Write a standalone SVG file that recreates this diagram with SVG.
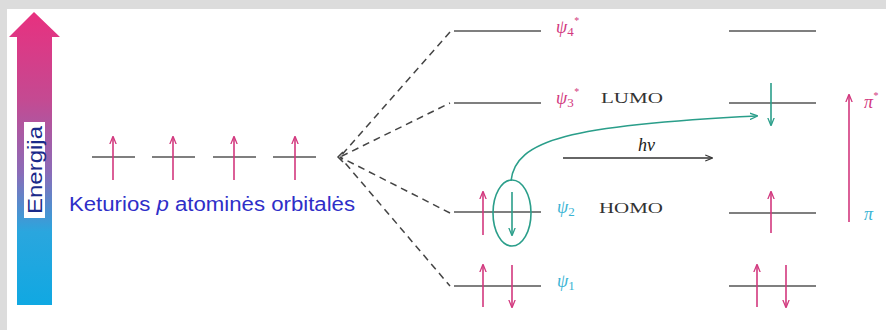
<svg xmlns="http://www.w3.org/2000/svg" width="886" height="330" viewBox="0 0 886 330">
<defs>
<linearGradient id="eg" x1="0" y1="0" x2="0" y2="1">
<stop offset="0" stop-color="#e8307f"/>
<stop offset="0.3" stop-color="#c44a92"/>
<stop offset="0.55" stop-color="#8a6cb8"/>
<stop offset="0.75" stop-color="#2aa6de"/>
<stop offset="1" stop-color="#10a8e2"/>
</linearGradient>
<marker id="ap" viewBox="0 0 10 10" refX="9" refY="5" markerWidth="5" markerHeight="5" orient="auto-start-reverse"><path d="M0,1 L10,5 L0,9" fill="none" stroke="#d2387e" stroke-width="1.6"/></marker>
<marker id="at" viewBox="0 0 10 10" refX="9" refY="5" markerWidth="5" markerHeight="5" orient="auto-start-reverse"><path d="M0,1 L10,5 L0,9" fill="none" stroke="#2a9e8a" stroke-width="1.6"/></marker>
<marker id="ak" viewBox="0 0 10 10" refX="9" refY="5" markerWidth="5" markerHeight="5" orient="auto-start-reverse"><path d="M0,1 L10,5 L0,9" fill="none" stroke="#333" stroke-width="1.6"/></marker>
</defs>
<style>
.lvl{stroke:#555;stroke-width:1.6;fill:none}
.up{stroke:#d2387e;stroke-width:1.6;marker-end:url(#ap)}
.dn{stroke:#d2387e;stroke-width:1.6;marker-end:url(#ap)}
.dt{stroke:#2a9e8a;stroke-width:1.6;marker-end:url(#at)}
.dash{stroke:#444;stroke-width:1.5;stroke-dasharray:7,5;fill:none}
.psi{font-family:"Liberation Serif",serif;font-style:italic;font-size:18px}
.mag{fill:#d2387e}
.cya{fill:#3ab4d4}
.lab{font-family:"Liberation Serif",serif;font-size:15px;fill:#333}
</style>
<rect x="0" y="0" width="886" height="330" fill="#dcdcdc"/>
<rect x="7" y="9" width="879" height="321" fill="#ffffff"/>

<g id="energy">
<path d="M17,37 L9,37 L34,12 L60,37 L52,37 L52,305 L17,305 Z" fill="url(#eg)"/>
<rect x="24" y="122" width="21" height="96" fill="#ffffff"/>
<text transform="translate(42,170) rotate(-90)" text-anchor="middle" font-family="Liberation Sans,Arial,sans-serif" font-size="20" textLength="88" lengthAdjust="spacingAndGlyphs" fill="#1a2a8a">Energija</text>
</g>

<g id="atomic">
<line class="lvl" x1="92" y1="157" x2="135" y2="157"/>
<line class="lvl" x1="152" y1="157" x2="195" y2="157"/>
<line class="lvl" x1="213" y1="157" x2="256" y2="157"/>
<line class="lvl" x1="273" y1="157" x2="316" y2="157"/>
<line class="up" x1="113" y1="180" x2="113" y2="137"/>
<line class="up" x1="173" y1="180" x2="173" y2="137"/>
<line class="up" x1="234" y1="180" x2="234" y2="137"/>
<line class="up" x1="295" y1="180" x2="295" y2="137"/>
<text x="69" y="211" font-family="Liberation Sans,Arial,sans-serif" font-size="19.5" textLength="286" lengthAdjust="spacingAndGlyphs" fill="#2e2ec8">Keturios <tspan font-style="italic">p</tspan> atominės orbitalės</text>
</g>

<g id="connectors">
<path class="dash" d="M450,32 L340,157 L450,103"/>
<path class="dash" d="M450,213 L340,157 L450,286"/>
<path d="M343,152 L338,157 L343,162" fill="none" stroke="#444" stroke-width="1.5"/>
<path d="M511,181 C515,140 570,125 757,116" fill="none" stroke="#2a9e8a" stroke-width="1.6" marker-end="url(#at)"/>
<line x1="563" y1="158" x2="712" y2="158" stroke="#333" stroke-width="1.5" marker-end="url(#ak)"/>
<text x="638" y="151" class="psi" font-size="15" fill="#222">hν</text>
</g>

<g id="psi4">
<line class="lvl" x1="454" y1="31" x2="541" y2="31"/>
<text class="psi mag" x="556" y="33">ψ<tspan font-size="13" font-style="normal" dy="3">4</tspan><tspan font-size="10" dy="-12">*</tspan></text>
<line class="lvl" x1="729" y1="31" x2="816" y2="31"/>
</g>

<g id="psi3">
<line class="lvl" x1="454" y1="103" x2="541" y2="103"/>
<text class="psi mag" x="556" y="104">ψ<tspan font-size="13" font-style="normal" dy="3">3</tspan><tspan font-size="10" dy="-12">*</tspan></text>
<text class="lab" x="601" y="103" textLength="62" lengthAdjust="spacingAndGlyphs">LUMO</text>
<line class="lvl" x1="729" y1="103" x2="816" y2="103"/>
<line class="dt" x1="771" y1="83" x2="771" y2="125"/>
</g>

<g id="psi2">
<line class="lvl" x1="454" y1="212" x2="541" y2="212"/>
<line class="up" x1="483" y1="235" x2="483" y2="192"/>
<line class="dt" x1="512" y1="192" x2="512" y2="235"/>
<ellipse cx="512" cy="213" rx="19" ry="33" fill="none" stroke="#2a9e8a" stroke-width="1.6"/>
<text class="psi cya" x="557" y="213">ψ<tspan font-size="13" font-style="normal" dy="3">2</tspan></text>
<text class="lab" x="599" y="213" textLength="64" lengthAdjust="spacingAndGlyphs">HOMO</text>
<line class="lvl" x1="729" y1="213" x2="816" y2="213"/>
<line class="up" x1="771" y1="233" x2="771" y2="192"/>
</g>

<g id="psi1">
<line class="lvl" x1="454" y1="286" x2="541" y2="286"/>
<line class="up" x1="483" y1="307" x2="483" y2="265"/>
<line class="dn" x1="512" y1="265" x2="512" y2="307"/>
<text class="psi cya" x="557" y="287">ψ<tspan font-size="13" font-style="normal" dy="3">1</tspan></text>
<line class="lvl" x1="729" y1="286" x2="816" y2="286"/>
<line class="up" x1="757" y1="307" x2="757" y2="265"/>
<line class="dn" x1="786" y1="265" x2="786" y2="307"/>
</g>

<g id="pi">
<line class="up" x1="849" y1="222" x2="849" y2="95"/>
<text class="psi mag" x="864" y="108">π<tspan font-size="10" dy="-9">*</tspan></text>
<text class="psi cya" x="864" y="220">π</text>
</g>
</svg>
